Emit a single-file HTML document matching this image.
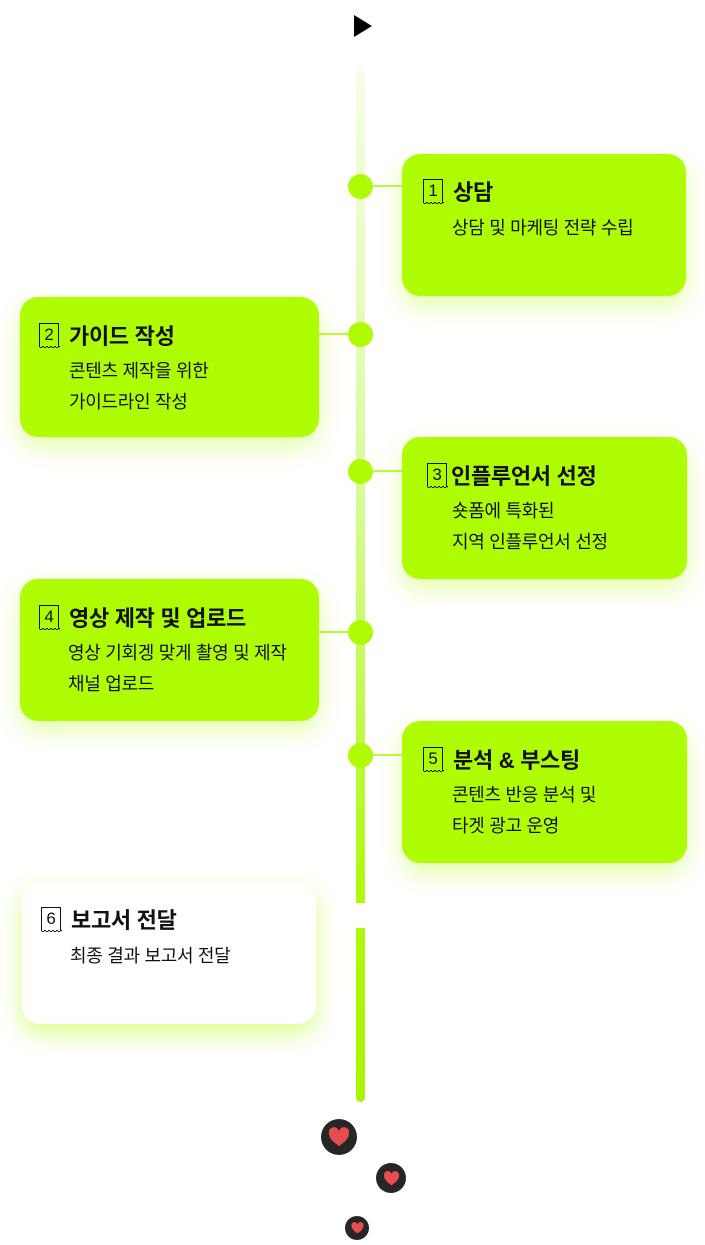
<!DOCTYPE html>
<html><head><meta charset="utf-8"><style>
body{margin:0;width:705px;height:1245px;background:#fff;position:relative;overflow:hidden;font-family:"Liberation Sans","Noto Sans CJK KR",sans-serif;color:#111}
.line{position:absolute;left:356px;top:70px;width:9px;height:1032px;border-radius:5px;background:linear-gradient(#f6fde6,#d9fb9a 40%,#aef90c 80%,#a8f500)}
.gap{position:absolute;left:350px;top:903px;width:20px;height:25px;background:#fff}
.dot{position:absolute;left:348px;width:25px;height:25px;border-radius:50%;background:#aefb04}
.con{position:absolute;height:2px;background:#b8fb3a}
.card{position:absolute;border-radius:18px;background:#affd03;box-shadow:0 10px 24px rgba(175,253,3,.35)}
.card.w{background:#fff;box-shadow:0 10px 24px rgba(175,253,3,.45)}
.t{position:absolute;font-size:22px;font-weight:bold;white-space:nowrap;display:flex;align-items:center;letter-spacing:-0.3px}
.ic{position:relative;display:inline-block;width:20px;height:24px;border:1.5px solid #111;border-bottom:none;font-size:17px;font-weight:normal;text-align:center;line-height:22px;margin-right:10px;box-sizing:border-box}
.ic:after{content:"";position:absolute;left:-1.5px;right:-1.5px;bottom:-3px;height:4px;background:radial-gradient(circle at 50% 0,transparent 1.2px,#111 1.3px,#111 2px,transparent 2.1px) 0 0/4px 4px repeat-x}
.d{position:absolute;font-size:18px;line-height:31px;white-space:nowrap;letter-spacing:-0.3px}
.h{position:absolute;border-radius:50%;background:#262626;display:flex;align-items:center;justify-content:center}
</style></head><body>
<svg style="position:absolute;left:354px;top:15px" width="19" height="22"><polygon points="0,0 18,11 0,22" fill="#000"/></svg>
<div class="line"></div><div class="gap"></div>
<div class="con" style="left:372px;top:185px;width:32px"></div>
<div class="con" style="left:318px;top:333px;width:32px"></div>
<div class="con" style="left:372px;top:470px;width:32px"></div>
<div class="con" style="left:318px;top:631px;width:32px"></div>
<div class="con" style="left:372px;top:754px;width:32px"></div>
<div class="dot" style="top:174px"></div>
<div class="dot" style="top:322px"></div>
<div class="dot" style="top:459px"></div>
<div class="dot" style="top:620px"></div>
<div class="dot" style="top:743px"></div>

<div class="card" style="left:402px;top:154px;width:284px;height:142px"></div>
<div class="t" style="left:423px;top:175px"><span class="ic">1</span>상담</div>
<div class="d" style="left:452px;top:213px">상담 및 마케팅 전략 수립</div>

<div class="card" style="left:20px;top:297px;width:299px;height:140px"></div>
<div class="t" style="left:39px;top:319px"><span class="ic">2</span>가이드 작성</div>
<div class="d" style="left:69px;top:356px">콘텐츠 제작을 위한<br>가이드라인 작성</div>

<div class="card" style="left:402px;top:437px;width:285px;height:142px"></div>
<div class="t" style="left:427px;top:459px"><span class="ic" style="margin-right:4px">3</span>인플루언서 선정</div>
<div class="d" style="left:452px;top:496px">숏폼에 특화된<br>지역 인플루언서 선정</div>

<div class="card" style="left:20px;top:579px;width:299px;height:142px"></div>
<div class="t" style="left:39px;top:601px"><span class="ic">4</span>영상 제작 및 업로드</div>
<div class="d" style="left:68px;top:638px">영상 기회겡 맞게 촬영 및 제작<br>채널 업로드</div>

<div class="card" style="left:402px;top:721px;width:285px;height:142px"></div>
<div class="t" style="left:423px;top:743px"><span class="ic">5</span>분석 &amp; 부스팅</div>
<div class="d" style="left:452px;top:780px">콘텐츠 반응 분석 및<br>타겟 광고 운영</div>

<div class="card w" style="left:22px;top:882px;width:294px;height:142px"></div>
<div class="t" style="left:41px;top:903px"><span class="ic">6</span>보고서 전달</div>
<div class="d" style="left:70px;top:941px">최종 결과 보고서 전달</div>

<div class="h" style="left:321px;top:1119px;width:36px;height:36px"><svg width="22" height="20" viewBox="0 0 24 22"><path d="M12 21C5 16 1 12 1 7A5.5 5.5 0 0 1 12 4.5A5.5 5.5 0 0 1 23 7C23 12 19 16 12 21Z" fill="#e84d4d"/></svg></div>
<div class="h" style="left:376px;top:1163px;width:30px;height:30px"><svg width="17" height="15" viewBox="0 0 24 22"><path d="M12 21C5 16 1 12 1 7A5.5 5.5 0 0 1 12 4.5A5.5 5.5 0 0 1 23 7C23 12 19 16 12 21Z" fill="#e84d4d"/></svg></div>
<div class="h" style="left:345px;top:1216px;width:24px;height:24px"><svg width="13" height="12" viewBox="0 0 24 22"><path d="M12 21C5 16 1 12 1 7A5.5 5.5 0 0 1 12 4.5A5.5 5.5 0 0 1 23 7C23 12 19 16 12 21Z" fill="#e84d4d"/></svg></div>
</body></html>
